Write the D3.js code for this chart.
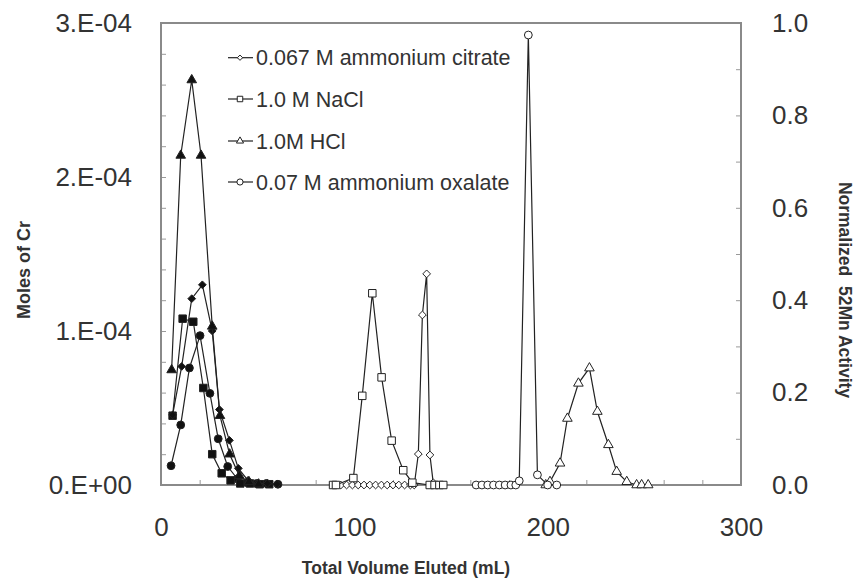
<!DOCTYPE html>
<html>
<head>
<meta charset="utf-8">
<script src="https://cdn.jsdelivr.net/npm/d3@7"></script>
<style>
  body { margin: 0; background: #fff; }
  svg text { font-family: "Liberation Sans", Arial, sans-serif; fill: #333; }
</style>
</head>
<body>
<main></main>
<script>
// Cr (left axis, filled markers)
var crTriVol = [5.5, 10.2, 15.9, 20.7, 26.5, 30.5, 35.5, 40.5, 45.5, 50.5];
var crTri = [0.747e-4, 2.14e-4, 2.63e-4, 2.14e-4, 1.03e-4, 0.45e-4, 0.2e-4, 0.06e-4, 0.02e-4, 0.005e-4];
var crDiaVol = [6, 10.7, 15.9, 21.4, 26.5, 30.2, 35.4, 40, 45, 50, 55, 60];
var crDia = [0.455e-4, 0.77e-4, 1.21e-4, 1.30e-4, 1.0e-4, 0.49e-4, 0.29e-4, 0.108e-4, 0.03e-4, 0.01e-4, 0.01e-4, 0.005e-4];
var crSqVol = [6, 11.2, 16.7, 21.9, 26.5, 31.4, 36, 41, 46, 51, 56];
var crSq = [0.45e-4, 1.08e-4, 1.06e-4, 0.63e-4, 0.20e-4, 0.076e-4, 0.03e-4, 0.01e-4, 0.01e-4, 0.005e-4, 0.005e-4];
var crCirVol = [5.2, 10.2, 14.7, 20.2, 25.3, 29.6, 34.5, 39.5, 44.5, 49.5, 54.5, 60.5];
var crCir = [0.125e-4, 0.39e-4, 0.76e-4, 0.97e-4, 0.595e-4, 0.30e-4, 0.12e-4, 0.04e-4, 0.015e-4, 0.01e-4, 0.01e-4, 0.005e-4];

// 52Mn activity (right axis, open markers)
var citrateVol = [90, 93, 96, 99, 102, 105, 108, 111, 114, 117, 120, 123, 126, 129, 131, 133.1, 135.2, 137.4, 139.1, 140.8];
var citrateAct = [0, 0, 0, 0, 0, 0, 0, 0, 0, 0, 0, 0, 0, 0, 0, 0.067, 0.368, 0.457, 0.065, 0.005];
var naclVol = [89, 90.5, 99.5, 104.1, 109.3, 114.1, 119.3, 125.3, 130, 139, 141.5, 144, 146];
var naclAct = [0, 0, 0.015, 0.193, 0.415, 0.233, 0.096, 0.032, 0.005, 0, 0, 0, 0];
var hclVol = [199, 201.2, 206.4, 210.2, 215.9, 221.6, 225.7, 231.4, 235.7, 240.9, 246, 248.6, 252];
var hclAct = [0, 0.007, 0.047, 0.144, 0.22, 0.253, 0.159, 0.087, 0.029, 0.007, 0, 0, 0];
var oxalateVol = [163, 166, 169, 172, 175, 178, 181, 183.5, 185.3, 190, 194.7, 200, 204.7];
var oxalateAct = [0, 0, 0, 0, 0, 0, 0, 0, 0.009, 0.974, 0.022, 0, 0];

var legendLabels = ["0.067 M ammonium citrate", "1.0 M NaCl", "1.0M HCl", "0.07 M ammonium oxalate"];
var xTicks = [0, 100, 200, 300];
var yLeftTicks = [0, 1e-4, 2e-4, 3e-4];
var yRightTicks = [0, 0.2, 0.4, 0.6, 0.8, 1.0];

var W = 856, H = 579;
var L = 161, R = 741, T = 23, B = 485;

var svg = d3.select('main').append('svg')
    .attr('width', W)
    .attr('height', H);

var x = d3.scaleLinear().domain([0, 300]).range([L, R]);
var yL = d3.scaleLinear().domain([0, 3e-4]).range([B, T]);
var yR = d3.scaleLinear().domain([0, 1]).range([B, T]);

// minor ticks (inside)
svg.append('g').attr('transform', 'translate(' + L + ',0)')
    .call(d3.axisLeft(yL).tickValues(d3.range(0, 16).map(i => i * 2e-5)).tickSize(-5).tickFormat(''))
    .call(g => g.select('.domain').remove())
    .call(g => g.selectAll('line').attr('stroke', '#999'));
svg.append('g').attr('transform', 'translate(' + R + ',0)')
    .call(d3.axisRight(yR).tickValues(d3.range(0, 11).map(i => i / 10)).tickSize(-5).tickFormat(''))
    .call(g => g.select('.domain').remove())
    .call(g => g.selectAll('line').attr('stroke', '#999'));
svg.append('g').attr('transform', 'translate(0,' + B + ')')
    .call(d3.axisBottom(x).tickValues(d3.range(0, 16).map(i => i * 20)).tickSize(-5).tickFormat(''))
    .call(g => g.select('.domain').remove())
    .call(g => g.selectAll('line').attr('stroke', '#999'));

// frame
svg.append('rect')
    .attr('x', L).attr('y', T)
    .attr('width', R - L).attr('height', B - T)
    .attr('fill', 'none')
    .attr('stroke', '#8a8a8a')
    .attr('stroke-width', 2);

// tick labels
var leftFmt = v => v === 0 ? '0.E+00' : Math.round(v / 1e-4) + '.E-04';
svg.append('g').attr('transform', 'translate(' + L + ',0)')
    .call(d3.axisLeft(yL).tickValues(yLeftTicks).tickSize(0).tickPadding(29).tickFormat(leftFmt))
    .call(g => g.select('.domain').remove())
    .call(g => g.selectAll('text').style('font-size', '26px').attr('fill', '#333'));
svg.append('g').attr('transform', 'translate(' + R + ',0)')
    .call(d3.axisRight(yR).tickValues(yRightTicks).tickSize(0).tickPadding(31).tickFormat(d3.format('.1f')))
    .call(g => g.select('.domain').remove())
    .call(g => g.selectAll('text').style('font-size', '26px').attr('fill', '#333'));
svg.append('g').attr('transform', 'translate(0,' + B + ')')
    .call(d3.axisBottom(x).tickValues(xTicks).tickSize(0).tickPadding(33).tickFormat(d3.format('d')))
    .call(g => g.select('.domain').remove())
    .call(g => g.selectAll('text').style('font-size', '26px').attr('fill', '#333'));

// axis titles
svg.append('text')
    .attr('transform', 'translate(24,270) rotate(-90)')
    .attr('text-anchor', 'middle')
    .attr('dy', '0.35em')
    .style('font-size', '18px').style('font-weight', 'bold').attr('fill', '#111')
    .text('Moles of Cr');
svg.append('text')
    .attr('transform', 'translate(845,290) rotate(90)')
    .attr('text-anchor', 'middle')
    .attr('dy', '0.35em')
    .style('font-size', '17.5px').style('font-weight', 'bold').attr('fill', '#111')
    .style('white-space', 'pre')
    .text('Normalized  52Mn Activity');
svg.append('text')
    .attr('x', 406).attr('y', 568)
    .attr('text-anchor', 'middle')
    .attr('dy', '0.35em')
    .style('font-size', '17.5px').style('font-weight', 'bold').attr('fill', '#111')
    .text('Total Volume Eluted (mL)');

// symbols
var diamond = { draw: function (ctx, size) { var r = Math.sqrt(size) / 2 * Math.SQRT2; ctx.moveTo(0, -r); ctx.lineTo(r, 0); ctx.lineTo(0, r); ctx.lineTo(-r, 0); ctx.closePath(); } };
var symTri = d3.symbol().type(d3.symbolTriangle).size(40);
var symSq = d3.symbol().type(d3.symbolSquare).size(56);
var symCir = d3.symbol().type(d3.symbolCircle).size(48);
var symDia = d3.symbol().type(diamond).size(30);

function drawSeries(vols, vals, y, sym, filled) {
    var pts = vols.map((v, i) => [x(v), y(vals[i])]);
    svg.append('path')
        .attr('d', d3.line()(pts))
        .attr('fill', 'none')
        .attr('stroke', '#222')
        .attr('stroke-width', 1.2);
    svg.append('g').selectAll('path')
        .data(pts)
        .enter().append('path')
        .attr('transform', d => 'translate(' + d[0] + ',' + d[1] + ')')
        .attr('d', sym())
        .attr('fill', filled ? '#111' : '#fff')
        .attr('stroke', '#222')
        .attr('stroke-width', 1);
}

drawSeries(crCirVol, crCir, yL, symCir, true);
drawSeries(crSqVol, crSq, yL, symSq, true);
drawSeries(crDiaVol, crDia, yL, symDia, true);
drawSeries(crTriVol, crTri, yL, symTri, true);

drawSeries(citrateVol, citrateAct, yR, symDia, false);
drawSeries(naclVol, naclAct, yR, symSq, false);
drawSeries(hclVol, hclAct, yR, symTri, false);
drawSeries(oxalateVol, oxalateAct, yR, symCir, false);

// legend
var legSyms = [d3.symbol().type(diamond).size(14), d3.symbol().type(d3.symbolSquare).size(30),
    d3.symbol().type(d3.symbolTriangle).size(22), d3.symbol().type(d3.symbolCircle).size(30)];
var legY = [57.7, 99, 141, 182];
var leg = svg.append('g').selectAll('g')
    .data(legendLabels)
    .enter().append('g')
    .attr('transform', (d, i) => 'translate(0,' + legY[i] + ')');
leg.append('line')
    .attr('x1', 228).attr('x2', 253)
    .attr('stroke', '#222').attr('stroke-width', 1.2);
leg.append('path')
    .attr('transform', 'translate(240,0)')
    .attr('d', (d, i) => legSyms[i]())
    .attr('fill', '#fff').attr('stroke', '#222');
leg.append('text')
    .attr('x', 256)
    .attr('dy', '0.35em')
    .style('font-size', '21.5px').attr('fill', '#333')
    .text(d => d);
</script>
</body>
</html>
